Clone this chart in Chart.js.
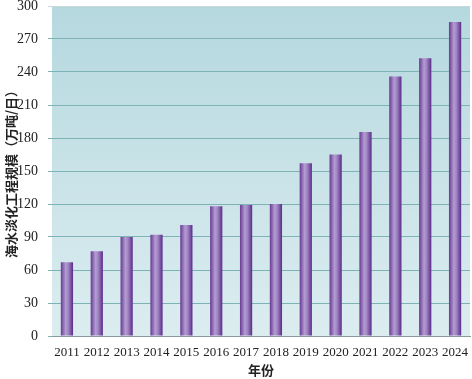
<!DOCTYPE html>
<html>
<head>
<meta charset="utf-8">
<script src="https://cdn.jsdelivr.net/npm/chart.js@4.4.1/dist/chart.umd.min.js"></script>
<style>
  html, body { margin: 0; padding: 0; background: #fff; }
  #wrap { width: 472px; height: 379px; position: relative; }
</style>
</head>
<body>
<div id="wrap"><canvas id="chart"></canvas></div>
<script>
const years = ["2011", "2012", "2013", "2014", "2015", "2016", "2017", "2018", "2019", "2020", "2021", "2022", "2023", "2024"];
const capacity = [67, 77, 90, 92, 101, 118, 119, 120, 157, 165, 185.5, 236, 252.5, 285.5];
const yTicks = [0, 30, 60, 90, 120, 150, 180, 210, 240, 270, 300];

// light blue gradient behind the plot area
const plotBackground = {
  id: "plotBackground",
  beforeDraw(chart) {
    const { ctx, chartArea: a } = chart;
    const g = ctx.createLinearGradient(0, a.top, 0, a.bottom);
    g.addColorStop(0, "#b5d8df");
    g.addColorStop(1, "#dcedf0");
    ctx.save();
    ctx.fillStyle = g;
    ctx.fillRect(a.left, a.top, a.right - a.left, a.bottom - a.top);
    ctx.restore();
  },
};

// cylinder look: dark edges, light middle
function barFill(context) {
  const chart = context.chart;
  if (!chart.chartArea) return "#8a63b3";
  const x = chart.scales.x.getPixelForValue(context.dataIndex);
  const half = 6;
  const g = chart.ctx.createLinearGradient(x - half, 0, x + half, 0);
  g.addColorStop(0, "#683c94");
  g.addColorStop(0.4, "#b49cd2");
  g.addColorStop(0.6, "#a186c4");
  g.addColorStop(1, "#5c2e8a");
  return g;
}

new Chart(document.getElementById("chart"), {
  type: "bar",
  data: {
    labels: years,
    datasets: [
      {
        data: capacity,
        backgroundColor: barFill,
        borderWidth: 0,
        barPercentage: 0.41,
        categoryPercentage: 1,
      },
    ],
  },
  options: {
    responsive: true,
    maintainAspectRatio: false,
    animation: false,
    layout: { padding: { top: 6, right: 2, left: 3, bottom: 0 } },
    plugins: { legend: { display: false }, tooltip: { enabled: false } },
    scales: {
      x: {
        afterFit(axis) {
          axis.height = 43;
          axis.paddingLeft = 0;
          axis.paddingRight = 0;
        },
        grid: { display: false, drawTicks: false },
        border: { color: "#8a9a9c", width: 1 },
        ticks: {
          color: "#222",
          padding: 9,
          maxRotation: 0,
          autoSkip: false,
          font: { family: "Liberation Serif", size: 13 },
        },
        title: {
          display: true,
          text: "年份",
          color: "#222",
          padding: { top: 0, bottom: 1 },
          font: { family: "Noto Sans CJK SC", size: 13, weight: "bold" },
        },
      },
      y: {
        min: 0,
        max: 300,
        afterBuildTicks(axis) {
          axis.ticks = yTicks.map((v) => ({ value: v }));
        },
        afterFit(axis) {
          axis.paddingTop = 0;
          axis.paddingBottom = 0;
          axis.width = 49;
        },
        grid: {
          color: (c) => (c.tick && c.tick.value === 300 ? "#c8d8d8" : "#7eb3b6"),
          lineWidth: 1,
          tickLength: 4,
        },
        border: { display: false },
        ticks: {
          color: "#222",
          padding: 10,
          font: { family: "Liberation Serif", size: 14 },
        },
        title: {
          display: true,
          text: "海水淡化工程规模（万吨/日）",
          color: "#222",
          padding: { top: 0, bottom: 2 },
          font: { family: "Noto Sans CJK SC", size: 13, weight: "bold" },
        },
      },
    },
  },
  plugins: [plotBackground],
});
</script>
</body>
</html>
